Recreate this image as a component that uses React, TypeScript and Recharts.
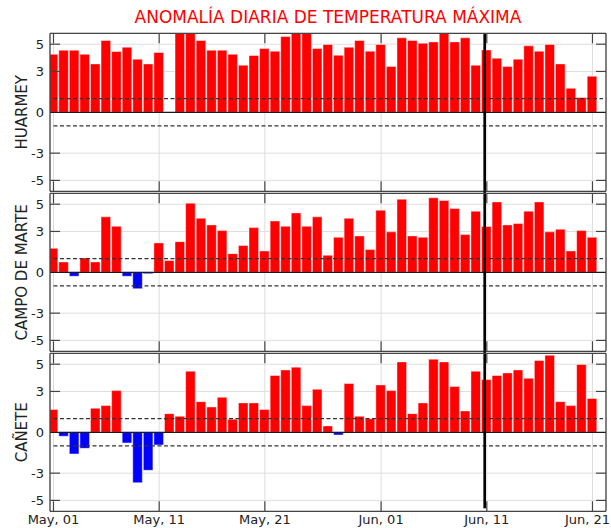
import React from 'react';
import { BarChart, Bar, XAxis, YAxis, CartesianGrid, ReferenceLine, Cell } from 'recharts';

// Day index 0 = May 01 ... 51 = Jun 21
const days: number[] = Array.from({ length: 52 }, (_, i) => i);

const dateTicks = [0, 10, 20, 31, 41, 51];
const dateTickLabels = ['May, 01', 'May, 11', 'May, 21', 'Jun, 01', 'Jun, 11', 'Jun, 21'];
const anomalyTicks = [-5, -3, 0, 3, 5];

// Daily max-temperature anomaly (°C) per station
const huarmey: (number | null)[] = [
  4.26, 4.56, 4.56, 4.26, 3.55, 5.27, 4.46, 4.78, 3.9, 3.55, 4.39, null,
  6.0, 6.0, 5.27, 4.56, 4.56, 4.26, 3.46, 4.17, 4.68, 4.49, 5.56, 6.0, 6.0, 4.68,
  4.98, 4.19, 4.78, 5.27, 4.49, 4.98, 3.36, 5.47, 5.27, 5.07, 5.17, 5.9, 5.17, 5.47,
  3.46, 4.58, 3.97, 3.36, 3.9, 4.88, 4.49, 4.98, 3.55, 1.76, 1.08, 2.65,
];
const campoDeMarte: number[] = [
  1.76, 0.76, -0.29, 1.05, 0.76, 4.07, 3.38, -0.29, -1.2, -0.1,
  2.16, 0.86, 2.25, 5.07, 3.97, 3.48, 3.06, 1.37, 1.96, 3.28, 1.57, 3.77, 3.38, 4.36, 3.38, 4.07,
  1.25, 2.57, 3.97, 2.67, 1.67, 4.56, 2.97, 5.37, 2.67, 2.57, 5.47, 5.27, 4.68, 2.77, 4.49, 3.36,
  5.17, 3.48, 3.58, 4.49, 5.17, 2.97, 3.16, 1.57, 3.06, 2.57,
];
const canete: number[] = [
  1.67, -0.29, -1.59, -1.18, 1.76, 1.96, 3.06, -0.78, -3.7, -2.79, -0.93,
  1.37, 1.18, 4.49, 2.25, 1.86, 2.57, 0.96, 2.16, 2.16, 1.67, 4.17, 4.58, 4.78, 1.96, 3.16,
  0.47, -0.2, 3.58, 1.18, 1.0, 3.48, 3.06, 5.17, 1.37, 2.16, 5.37, 5.17, 3.36, 1.57, 4.49, 3.87,
  4.17, 4.36, 4.58, 3.97, 5.27, 5.66, 2.25, 1.96, 4.98, 2.48,
];

const thresholds = [1, -1];
const markerDay = 40.8;

const X_DOMAIN: [number, number] = [-0.33, 52.28];
const Y_DOMAIN: [number, number] = [-5.8, 5.8];

const FONT = 'DejaVu Sans, sans-serif';
const WARM = '#ff0000';
const COLD = '#0000ff';
const FRAME = '#444444';
const TEXT = '#222222';
const CHART_W = 611;
const PLOT_TOP = 33.3;
const PLOT_H = 158;
const PANEL_STEP = 160;
const TICK_LEN = 10;
// every axis keeps a 1px box so that it is drawn; margins absorb it
const AXIS_PX = 1;

function BottomTick(props: any) {
  const { x, y, payload, showDates } = props;
  const idx = dateTicks.indexOf(payload.value);
  // the last date label is pinned to the chart's right edge so it stays whole
  const isLast = idx === dateTicks.length - 1;
  return (
    <g>
      <line x1={x} x2={x} y1={y} y2={y - TICK_LEN} stroke={FRAME} strokeWidth={1.2} />
      {showDates && (
        <text
          x={isLast ? CHART_W - 1 : x}
          y={y + 13}
          textAnchor={isLast ? 'end' : 'middle'}
          fontSize={13}
          fontFamily={FONT}
          fill={TEXT}
        >
          {dateTickLabels[idx]}
        </text>
      )}
    </g>
  );
}

function TopTick(props: any) {
  const { x, y } = props;
  return <line x1={x} x2={x} y1={y} y2={y + TICK_LEN} stroke={FRAME} strokeWidth={1.2} />;
}

function LeftTick(props: any) {
  const { x, y, payload } = props;
  return (
    <g>
      {payload.value !== 0 && (
        <line x1={x} x2={x + TICK_LEN} y1={y} y2={y} stroke={FRAME} strokeWidth={1.2} />
      )}
      <text x={x - 6} y={y} dy="0.35em" textAnchor="end" fontSize={13} fontFamily={FONT} fill={TEXT}>
        {payload.value}
      </text>
    </g>
  );
}

function RightTick(props: any) {
  const { x, y, payload } = props;
  if (payload.value === 0) return <g />;
  return <line x1={x} x2={x - TICK_LEN} y1={y} y2={y} stroke={FRAME} strokeWidth={1.2} />;
}

function StationLabel(props: any) {
  const { viewBox, name } = props;
  const cy = viewBox.y + viewBox.height / 2;
  const x = 27;
  return (
    <text
      x={x}
      y={cy}
      transform={`rotate(-90 ${x} ${cy})`}
      textAnchor="middle"
      fontSize={15}
      fontFamily={FONT}
      fill={TEXT}
    >
      {name}
    </text>
  );
}

type PanelProps = {
  name: string;
  values: (number | null)[];
  row: number;
  showDates: boolean;
  markerTop: number;
  markerBottom: number;
};

function Panel({ name, values, row, showDates, markerTop, markerBottom }: PanelProps) {
  const data = days.map((d, i) => ({ day: d, v: values[i] }));
  const height = showDates ? 208 : 192;
  const axisLine = { stroke: FRAME, strokeWidth: 1.3 };
  return (
    <div style={{ position: 'absolute', left: 0, top: row * PANEL_STEP, width: CHART_W, height }}>
      <BarChart
        width={CHART_W}
        height={height}
        data={data}
        margin={{
          top: PLOT_TOP - AXIS_PX,
          right: 5 - AXIS_PX,
          bottom: height - PLOT_TOP - PLOT_H - AXIS_PX,
          left: 50 - AXIS_PX,
        }}
      >
        <CartesianGrid stroke="#dedede" strokeWidth={1} />
        <XAxis
          dataKey="day"
          type="number"
          domain={X_DOMAIN}
          allowDataOverflow
          ticks={dateTicks}
          interval={0}
          height={AXIS_PX}
          tickSize={0}
          tickMargin={0}
          tickLine={false}
          axisLine={axisLine}
          tick={(p: any) => <BottomTick {...p} showDates={showDates} />}
        />
        <XAxis
          xAxisId="top"
          orientation="top"
          dataKey="day"
          type="number"
          domain={X_DOMAIN}
          allowDataOverflow
          ticks={dateTicks}
          interval={0}
          height={AXIS_PX}
          tickSize={0}
          tickMargin={0}
          tickLine={false}
          axisLine={axisLine}
          tick={(p: any) => <TopTick {...p} />}
        />
        <YAxis
          type="number"
          domain={Y_DOMAIN}
          allowDataOverflow
          ticks={anomalyTicks}
          interval={0}
          width={AXIS_PX}
          tickSize={0}
          tickMargin={0}
          tickLine={false}
          axisLine={axisLine}
          tick={(p: any) => <LeftTick {...p} />}
          label={(p: any) => <StationLabel {...p} name={name} />}
        />
        <YAxis
          yAxisId="right"
          orientation="right"
          type="number"
          domain={Y_DOMAIN}
          allowDataOverflow
          ticks={anomalyTicks}
          interval={0}
          width={AXIS_PX}
          tickSize={0}
          tickMargin={0}
          tickLine={false}
          axisLine={axisLine}
          tick={(p: any) => <RightTick {...p} />}
        />
        <Bar
          dataKey="v"
          barSize={9.6}
          isAnimationActive={false}
          stroke="#ffffff"
          strokeOpacity={0.45}
          strokeWidth={1}
        >
          {data.map((d, i) => (
            <Cell key={i} fill={(d.v ?? 0) >= 0 ? WARM : COLD} />
          ))}
        </Bar>
        <ReferenceLine y={0} stroke="#1a1a1a" strokeWidth={1.3} />
        {thresholds.map((t) => (
          <ReferenceLine
            key={t}
            segment={[
              { x: 0, y: t },
              { x: 52, y: t },
            ]}
            stroke="#333333"
            strokeWidth={1.3}
            strokeDasharray="4 2.5"
          />
        ))}
        <ReferenceLine
          segment={[
            { x: markerDay, y: markerBottom },
            { x: markerDay, y: markerTop },
          ]}
          ifOverflow="visible"
          stroke="#000000"
          strokeWidth={2.6}
        />
      </BarChart>
    </div>
  );
}

export default function App() {
  return (
    <div style={{ position: 'absolute', left: 0, top: 0, width: CHART_W, height: 528, background: '#ffffff' }}>
      <svg width={CHART_W} height={30} style={{ position: 'absolute', left: 0, top: 0 }}>
        <text x={328} y={22.7} textAnchor="middle" fontSize={17} fontFamily={FONT} fill={WARM}>
          ANOMALÍA DIARIA DE TEMPERATURA MÁXIMA
        </text>
      </svg>
      <Panel name="HUARMEY" values={huarmey} row={0} showDates={false} markerTop={5.8} markerBottom={-5.95} />
      <Panel name="CAMPO DE MARTE" values={campoDeMarte} row={1} showDates={false} markerTop={5.95} markerBottom={-5.95} />
      <Panel name="CAÑETE" values={canete} row={2} showDates={true} markerTop={5.95} markerBottom={-5.58} />
    </div>
  );
}
